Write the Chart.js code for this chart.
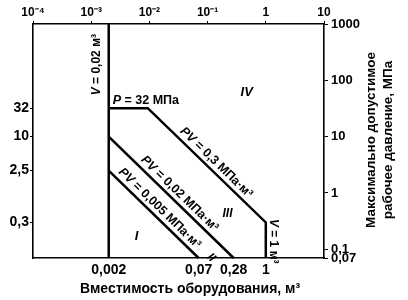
<!DOCTYPE html>
<html><head><meta charset="utf-8">
<script src="https://cdn.jsdelivr.net/npm/chart.js@4.4.1/dist/chart.umd.min.js"></script>
<style>html,body{margin:0;padding:0;background:#fff;}</style>
</head><body>
<canvas id="c" width="408" height="300"></canvas>
<script>
// ---- data ----
const topTicks = [1e-4, 1e-3, 1e-2, 1e-1, 1, 10];
const topTickLabels = ['10\u207B\u2074', '10\u207B\u00B3', '10\u207B\u00B2', '10\u207B\u00B9', '1', '10'];
const bottomTicks = [0.002, 0.07, 0.28, 1];
const bottomTickLabels = ['0,002', '0,07', '0,28', '1'];
const leftTicks = [0.3, 2.5, 10, 32];
const leftTickLabels = ['0,3', '2,5', '10', '32'];
const rightTicks = [0.07, 0.1, 1, 10, 100, 1000];
const rightTickLabels = ['0,07', '0,1', '1', '10', '100', '1000'];

const wallV = [0.002, 0.002];
const wallP = [0.07, 1000];
const limitV = [0.002, 0.009375, 1, 1];
const limitP = [32, 32, 0.3, 0.07];
const pv002V = [0.002, 0.28];
const pv002P = [10, 0.07];
const pv0005V = [0.002, 0.07];
const pv0005P = [2.5, 0.07];

const FONT = "'Liberation Sans', Arial, Helvetica, sans-serif";
const pts = (xs, ys) => xs.map((x, i) => ({x: x, y: ys[i]}));

function lineDs(xs, ys) {
  return {data: pts(xs, ys), showLine: true, borderColor: '#000', borderWidth: 2.5,
    pointRadius: 0, clip: false, xAxisID: 'x', yAxisID: 'y', borderJoinStyle: 'miter'};
}

function fixTicks(vals) {
  return function (s) { s.ticks = vals.map(v => ({value: v})); };
}

function runsFont(r, size) { return (r.i ? 'italic ' : '') + 'bold ' + size + 'px ' + FONT; }
function drawRuns(ctx, runs, size, align) {
  let total = 0;
  const ws = runs.map(r => { ctx.font = runsFont(r, size); const w = ctx.measureText(r.t).width; total += w; return w; });
  let x = align === 'left' ? 0 : -total / 2;
  runs.forEach((r, k) => { ctx.font = runsFont(r, size); ctx.fillText(r.t, x, 0); x += ws[k]; });
}

const pointLabels = [
  {runs: [{t: 'V', i: true}, {t: ' = 0,02 м\u00B3'}], x: 0.002, y: 190, dx: -12, dy: 0, rot: -90, size: 12},
  {runs: [{t: 'P', i: true}, {t: ' = 32 МПа'}], x: 0.002, y: 32, dx: 4, dy: -8, rot: 0, size: 12.5, align: 'left'},
  {runs: [{t: 'IV', i: true}], x: 0.47, y: 61, dx: 0, dy: 0, rot: 0, size: 13},
  {runs: [{t: 'III', i: true}], x: 0.22, y: 0.42, dx: 0, dy: 0, rot: 0, size: 12},
  {runs: [{t: 'I', i: true}], x: 0.006, y: 0.17, dx: 0, dy: 0, rot: 0, size: 13},
  {runs: [{t: 'V', i: true}, {t: ' = 1 м\u00B3'}], x: 1, y: 0.139, dx: 8, dy: 0, rot: 90, size: 12}
];
const lineLabels = [
  {runs: [{t: 'PV', i: true}, {t: ' = 0,3 МПа·м\u00B3'}], v: [limitV[1], limitV[2]], p: [limitP[1], limitP[2]], t: 0.53, off: 8.5, size: 12.5},
  {runs: [{t: 'PV', i: true}, {t: ' = 0,02 МПа·м\u00B3'}], v: pv002V, p: pv002P, t: 0.52, off: 8.5, size: 12.5},
  {runs: [{t: 'PV', i: true}, {t: ' = 0,005 МПа·м\u00B3'}], v: pv0005V, p: pv0005P, t: 0.5, off: 8.5, size: 12.5},
  {runs: [{t: 'II', i: true}], v: pv0005V, p: pv0005P, t: 1.07, off: 9, size: 12}
];

const textPlugin = {
  id: 'texts',
  afterDraw(chart) {
    const ctx = chart.ctx, xs = chart.scales.x, ys = chart.scales.y;
    ctx.save();
    ctx.fillStyle = '#000';
    ctx.textBaseline = 'middle';
    ctx.textAlign = 'left';
    pointLabels.forEach(L => {
      ctx.save();
      ctx.translate(xs.getPixelForValue(L.x) + L.dx, ys.getPixelForValue(L.y) + L.dy);
      ctx.rotate(L.rot * Math.PI / 180);
      drawRuns(ctx, L.runs, L.size, L.align);
      ctx.restore();
    });
    lineLabels.forEach(L => {
      const x1 = xs.getPixelForValue(L.v[0]), y1 = ys.getPixelForValue(L.p[0]);
      const x2 = xs.getPixelForValue(L.v[1]), y2 = ys.getPixelForValue(L.p[1]);
      const dx = x2 - x1, dy = y2 - y1, len = Math.hypot(dx, dy);
      const nx = dy / len, ny = -dx / len;
      ctx.save();
      ctx.translate(x1 + dx * L.t + nx * L.off, y1 + dy * L.t + ny * L.off);
      ctx.rotate(Math.atan2(dy, dx));
      drawRuns(ctx, L.runs, L.size);
      ctx.restore();
    });
    // axis titles
    ctx.save();
    ctx.font = 'bold 14px ' + FONT;
    ctx.textAlign = 'center';
    ctx.fillText('Вместимость оборудования, м\u00B3', 190, 289);
    ctx.translate(380, 140);
    ctx.rotate(-Math.PI / 2);
    ctx.font = 'bold 13.5px ' + FONT;
    ctx.fillText('Максимально допустимое', 0, -8.5);
    ctx.fillText('рабочее давление, МПа', 0, 8.5);
    ctx.restore();
    ctx.restore();
  }
};

const commonBorder = {display: true, color: '#000', width: 1.6};
const tickFont = size => ({family: FONT, size: size, weight: 'bold'});
new Chart(document.getElementById('c'), {
  type: 'scatter',
  data: {datasets: [lineDs(wallV, wallP), lineDs(limitV, limitP), lineDs(pv002V, pv002P), lineDs(pv0005V, pv0005P)]},
  options: {
    responsive: false, animation: false,
    layout: {padding: 0},
    plugins: {legend: {display: false}, tooltip: {enabled: false}},
    scales: {
      x: {type: 'logarithmic', position: 'bottom', min: 1e-4, max: 10,
        afterBuildTicks: fixTicks(bottomTicks), afterFit: s => { s.height = 42; },
        grid: {display: true, drawOnChartArea: false, drawTicks: false, color: '#000'},
        border: commonBorder,
        ticks: {autoSkip: false, maxRotation: 0, padding: 4, color: '#000', font: tickFont(14),
          callback: (v, i) => bottomTickLabels[i]}},
      x2: {type: 'logarithmic', position: 'top', min: 1e-4, max: 10,
        afterBuildTicks: fixTicks(topTicks), afterFit: s => { s.height = 24; },
        grid: {display: true, drawOnChartArea: false, drawTicks: true, tickLength: 3, color: '#000'},
        border: commonBorder,
        ticks: {autoSkip: false, maxRotation: 0, padding: 1, color: '#000', font: tickFont(12),
          callback: (v, i) => topTickLabels[i]}},
      y: {type: 'logarithmic', position: 'left', min: 0.07, max: 1000,
        afterBuildTicks: fixTicks(leftTicks), afterFit: s => { s.width = 33; },
        grid: {display: true, drawOnChartArea: false, drawTicks: true, tickLength: 3, color: '#000'},
        border: commonBorder,
        ticks: {autoSkip: false, padding: 1, color: '#000', font: tickFont(14),
          callback: (v, i) => leftTickLabels[i]}},
      y2: {type: 'logarithmic', position: 'right', min: 0.07, max: 1000,
        afterBuildTicks: fixTicks(rightTicks), afterFit: s => { s.width = 84; },
        grid: {display: true, drawOnChartArea: false, drawTicks: true, tickLength: 4, color: '#000'},
        border: commonBorder,
        ticks: {autoSkip: false, padding: 3, color: '#000', font: tickFont(13),
          callback: (v, i) => rightTickLabels[i]}}
    }
  },
  plugins: [textPlugin]
});
</script>
</body></html>
